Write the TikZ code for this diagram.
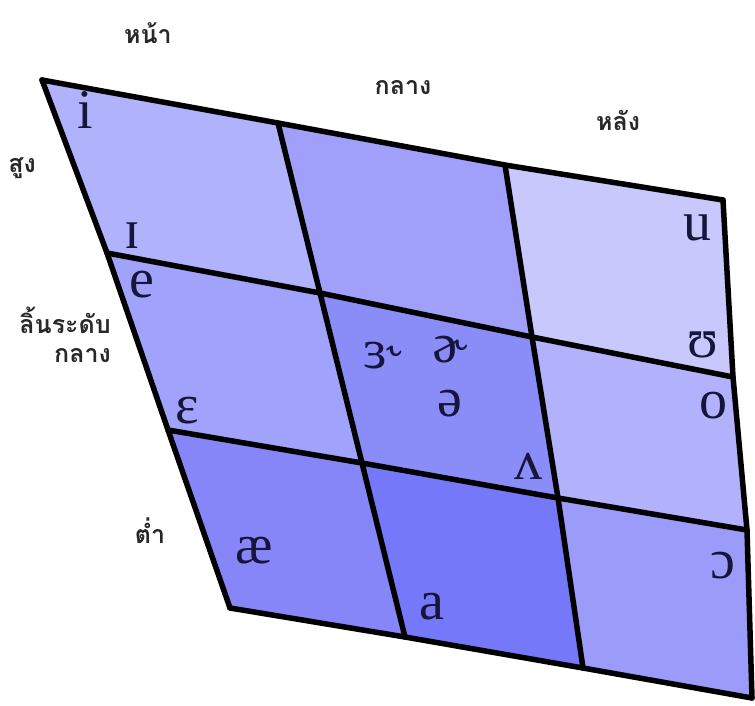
\documentclass[tikz,border=0pt]{standalone}
\usepackage{fontspec}
\setmainfont{Liberation Serif}
\newfontfamily\ipafont{Liberation Serif}
\newfontfamily\thaifont[Script=Thai]{Loma}
\usepackage{xcolor}
\usepackage{tikz}
\usetikzlibrary{positioning}
\definecolor{highfront}{RGB}{176,178,252}
\definecolor{highcentral}{RGB}{160,160,250}
\definecolor{highback}{RGB}{200,200,252}
\definecolor{midfront}{RGB}{160,162,252}
\definecolor{midcentral}{RGB}{138,140,248}
\definecolor{midback}{RGB}{178,178,252}
\definecolor{lowfront}{RGB}{134,134,248}
\definecolor{lowcentral}{RGB}{118,120,250}
\definecolor{lowback}{RGB}{155,155,250}
\definecolor{ipaink}{RGB}{22,22,60}
\definecolor{thaiink}{RGB}{40,40,40}
\tikzset{
  vowel/.style={font=\ipafont\fontsize{56}{56}\selectfont, text=ipaink, inner sep=0pt},
  thailabel/.style={font=\thaifont\bfseries\fontsize{25}{29}\selectfont, text=thaiink,
                    align=right, inner sep=0pt},
  gridline/.style={line width=5.5pt, line join=round, line cap=round},
}

\begin{document}
\begin{tikzpicture}[x=1pt, y=-1pt]
  \useasboundingbox (0,0) rectangle (755,705);
  % corners of the chart: p<row><column>, row 0 = high, column 0 = front
  \coordinate (p00) at (42,80);   \coordinate (p01) at (278,123);
  \coordinate (p02) at (505,165); \coordinate (p03) at (723,200);
  \coordinate (p10) at (107,253); \coordinate (p11) at (320,293);
  \coordinate (p12) at (532,337); \coordinate (p13) at (733,377);
  \coordinate (p20) at (168,430); \coordinate (p21) at (362,463);
  \coordinate (p22) at (558,498); \coordinate (p23) at (747,530);
  \coordinate (p30) at (230,608); \coordinate (p31) at (405,637);
  \coordinate (p32) at (583,668); \coordinate (p33) at (752,698);

  % cells
  \foreach \r/\c/\col in {0/0/highfront, 0/1/highcentral, 0/2/highback,
                          1/0/midfront, 1/1/midcentral, 1/2/midback,
                          2/0/lowfront, 2/1/lowcentral, 2/2/lowback} {
    \pgfmathtruncatemacro{\rr}{\r+1}
    \pgfmathtruncatemacro{\cc}{\c+1}
    \fill[\col] (p\r\c) -- (p\r\cc) -- (p\rr\cc) -- (p\rr\c) -- cycle;
  }

  % grid lines
  \foreach \r in {0,...,3}
    \draw[gridline] (p\r0) -- (p\r1) -- (p\r2) -- (p\r3);
  \foreach \c in {0,...,3}
    \draw[gridline] (p0\c) -- (p1\c) -- (p2\c) -- (p3\c);

  % vowels
  \node[vowel] (vi)   at (85,110)  {i};
  \node[vowel] (vI)   at (132,236) {ɪ};
  \node[vowel] (ve)   at (142,285) {e};
  \node[vowel] (veps) at (187,411) {ɛ};
  \node[vowel] (vae)  at (254,551) {æ};
  \node[vowel] (va)   at (432,607) {a};
  \node[vowel] (vu)   at (697,228) {u};
  \node[vowel] (vU)   at (703,345) {ʊ};
  \node[vowel] (vo)   at (713,406) {o};
  \node[vowel] (vc)   at (723,566) {ɔ};
  \node[vowel] (vV)   at (528,466) {ʌ};
  \node[vowel] (verr) at (385,356) {ɜ˞};
  \node[vowel] (vrr)  at (450,350) {ɚ};
  \node[vowel] (vsch) at (450,404) {ə};

  % Thai labels
  \node[thailabel] (front)   at (148,33)  {หน้า};
  \node[thailabel] (central) at (403,88)  {กลาง};
  \node[thailabel] (back)    at (618,120) {หลัง};
  \node[thailabel] (high)    at (22,168)  {สูง};
  \node[thailabel, anchor=east] (mid) at (111,335) {ลิ้นระดับ\\กลาง};
  \node[thailabel] (low)     at (150,531) {ต่ำ};
\end{tikzpicture}
\end{document}
